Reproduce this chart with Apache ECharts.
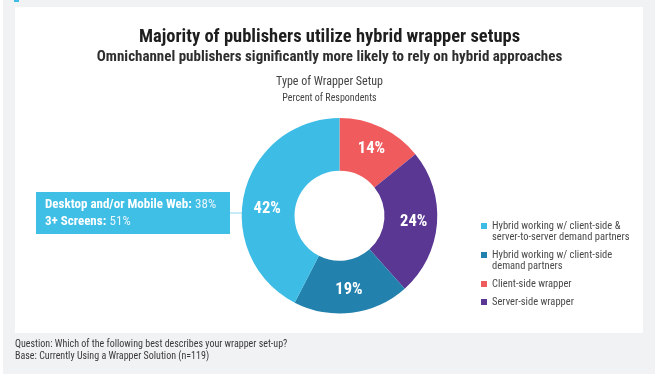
<!DOCTYPE html>
<html>
<head>
<meta charset="utf-8">
<script src="https://cdn.jsdelivr.net/npm/echarts@6/dist/echarts.min.js"></script>
<style>
html,body{margin:0;padding:0;background:#ffffff;}
#chart{width:659px;height:374px;}
</style>
</head>
<body>
<div id="chart"></div>
<script>
// Legend order
const categories = [
  'Hybrid working w/ client-side &\nserver-to-server demand partners',
  'Hybrid working w/ client-side\ndemand partners',
  'Client-side wrapper',
  'Server-side wrapper'
];
const values = [42, 19, 14, 24];
const colors = ['#3dbde5', '#2281ad', '#f05b5d', '#5a3793'];
// clockwise drawing order from 12 o'clock
const pieOrder = [2, 3, 1, 0];
const calloutLines = [
  ['Desktop and/or Mobile Web:', '38%'],
  ['3+ Screens:', '51%']
];

const FONT = '"Liberation Sans Narrow", "Roboto Condensed", "DejaVu Sans Condensed", "Liberation Sans", sans-serif';

const pieData = pieOrder.map(i => ({
  name: categories[i],
  value: values[i],
  itemStyle: { color: colors[i] }
}));

const chart = echarts.init(document.getElementById('chart'), null, { renderer: 'canvas' });

const option = {
  backgroundColor: '#ffffff',
  animation: false,
  textStyle: { fontFamily: FONT },
  graphic: [
    { type: 'rect', z: -10, shape: { x: 3, y: 0, width: 652, height: 374 }, style: { fill: '#f1f2f4' } },
    { type: 'rect', z: -9, shape: { x: 15, y: 7, width: 628, height: 326 }, style: { fill: '#ffffff' } },
    { type: 'rect', z: -8, shape: { x: 14, y: 0, width: 5, height: 2 }, style: { fill: '#3dbde5' } },
    { type: 'line', z: 1, shape: { x1: 230, y1: 213, x2: 243, y2: 213 }, style: { stroke: '#8fd6ef', lineWidth: 1 } },
    { type: 'rect', z: 1, shape: { x: 36, y: 192, width: 194, height: 42 }, style: { fill: '#3fbee6' } },
    {
      type: 'text', z: 2, left: 45, top: 198,
      style: {
        text: calloutLines.map(l => '{b|' + l[0] + '} {n|' + l[1] + '}').join('\n'),
        rich: {
          b: { fontFamily: FONT, fontWeight: 'bold', fontSize: 13, fill: '#ffffff', lineHeight: 17 },
          n: { fontFamily: FONT, fontSize: 13, fill: '#e6f6fc', lineHeight: 17 }
        }
      }
    },
    {
      type: 'text', left: 15, top: 338,
      style: {
        text: 'Question: Which of the following best describes your wrapper set-up?\nBase: Currently Using a Wrapper Solution (n=119)',
        fontFamily: FONT, fontSize: 10, lineHeight: 12, fill: '#3a3a3a'
      }
    }
  ],
  title: [
    {
      text: 'Majority of publishers utilize hybrid wrapper setups',
      left: 'center', top: 28, padding: 0,
      textStyle: { fontFamily: FONT, fontWeight: 'bold', fontSize: 18.5, color: '#1e1e1e' }
    },
    {
      text: 'Omnichannel publishers significantly more likely to rely on hybrid approaches',
      left: 'center', top: 50, padding: 0,
      textStyle: { fontFamily: FONT, fontWeight: 'bold', fontSize: 15, color: '#2e2e2e' }
    },
    {
      text: 'Type of Wrapper Setup',
      left: 'center', top: 76, padding: 0,
      textStyle: { fontFamily: FONT, fontWeight: 'normal', fontSize: 12, color: '#444444' }
    },
    {
      text: 'Percent of Respondents',
      left: 'center', top: 93, padding: 0,
      textStyle: { fontFamily: FONT, fontWeight: 'normal', fontSize: 10, color: '#444444' }
    }
  ],
  legend: {
    orient: 'vertical',
    left: 481,
    top: 209.5,
    padding: 0,
    itemGap: -4,
    itemWidth: 6,
    itemHeight: 6,
    icon: 'rect',
    selectedMode: false,
    data: categories,
    formatter: function (name) {
      const lines = name.split('\n');
      if (lines.length === 2) return '{e| }\n{a|' + lines[0] + '}\n{a|' + lines[1] + '}';
      if (name === categories[2]) return '{e| }\n{a|' + name + '}\n{e| }';
      return '{a|' + name + '}';
    },
    textStyle: {
      fontFamily: FONT, fontSize: 10.5, color: '#4a4a4a', lineHeight: 11,
      rich: {
        a: { fontFamily: FONT, fontSize: 10.5, color: '#4a4a4a', lineHeight: 11 },
        e: { fontFamily: FONT, fontSize: 10.5, lineHeight: 11 }
      }
    }
  },
  series: [{
    type: 'pie',
    center: [339.5, 215.8],
    radius: [45, 97.8],
    startAngle: 90,
    clockwise: true,
    avoidLabelOverlap: false,
    label: {
      show: true,
      position: 'inside',
      formatter: '{c}%',
      fontFamily: FONT,
      fontWeight: 'bold',
      fontSize: 16.5,
      color: '#ffffff'
    },
    labelLine: { show: false },
    labelLayout: function (params) {
      if (params.dataIndex === 3) return { dy: 11 };
      return {};
    },
    emphasis: { disabled: true },
    data: pieData
  }]
};

chart.setOption(option);
</script>
</body>
</html>
